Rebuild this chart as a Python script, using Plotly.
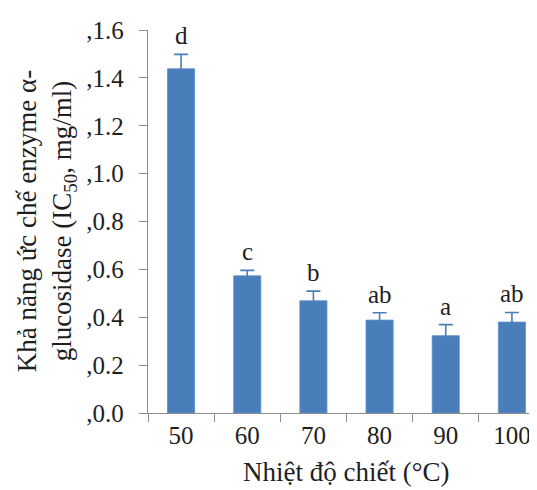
import plotly.graph_objects as go

categories = ["50", "60", "70", "80", "90", "100"]
values = [1.438, 0.573, 0.469, 0.388, 0.323, 0.380]
errors = [0.060, 0.023, 0.040, 0.031, 0.046, 0.040]
letters = ["d", "c", "b", "ab", "a", "ab"]
ytick_vals = [0.0, 0.2, 0.4, 0.6, 0.8, 1.0, 1.2, 1.4, 1.6]
ytick_text = [",0.0", ",0.2", ",0.4", ",0.6", ",0.8", ",1.0", ",1.2", ",1.4", ",1.6"]

FONT = "Liberation Serif, Times New Roman, serif"
BLUE = "#4A7EBB"
AXIS = "#8c8c8c"
TXT = "#1e1e1e"
FS = 25
FT = 27

fig = go.Figure()
fig.add_trace(go.Bar(
    x=categories, y=values, width=0.41,
    marker=dict(color=BLUE, line=dict(color="#5b8fcc", width=0.8)),
    error_y=dict(type="data", array=errors, symmetric=True, color=BLUE, thickness=1.6, width=7),
    showlegend=False,
))

annotations = []
for i, (v, e, t) in enumerate(zip(values, errors, letters)):
    annotations.append(dict(x=i, y=v + e, xref="x", yref="y", text=t, showarrow=False,
                            yanchor="bottom", xanchor="center", yshift=3,
                            font=dict(family=FONT, size=FS, color=TXT)))
annotations.append(dict(x=-0.255, y=0.5, xref="paper", yref="paper", textangle=-90,
                        text="Khả năng ức chế enzyme α-<br>glucosidase (IC<sub>50</sub>, mg/ml)",
                        showarrow=False, xanchor="center", yanchor="middle",
                        font=dict(family=FONT, size=FT, color=TXT)))
annotations.append(dict(x=0.5, y=-0.155, xref="paper", yref="paper",
                        text="Nhiệt độ chiết (°C)", showarrow=False,
                        xanchor="center", yanchor="middle",
                        font=dict(family=FONT, size=FT, color=TXT)))

fig.update_layout(
    width=537, height=490,
    margin=dict(l=140, r=0, t=22, b=85),
    paper_bgcolor="white", plot_bgcolor="white",
    font=dict(family=FONT, size=FS, color=TXT),
    annotations=annotations,
)
fig.update_xaxes(
    type="category", range=[-0.5, 5.5], automargin=False,
    showline=True, linecolor=AXIS, linewidth=1.4,
    ticks="outside", tickson="boundaries", ticklen=8, tickcolor=AXIS, tickwidth=1.4,
    showgrid=False, tickfont=dict(family=FONT, size=FS, color=TXT),
)
fig.update_yaxes(
    range=[0, 1.6], tickvals=ytick_vals, ticktext=ytick_text, automargin=False,
    showline=True, linecolor=AXIS, linewidth=1.4,
    ticks="outside", ticklen=8, tickcolor=AXIS, tickwidth=1.4,
    ticklabelstandoff=10,
    showgrid=False, zeroline=False,
    tickfont=dict(family=FONT, size=FS, color=TXT),
)

fig.write_html("out.html")
